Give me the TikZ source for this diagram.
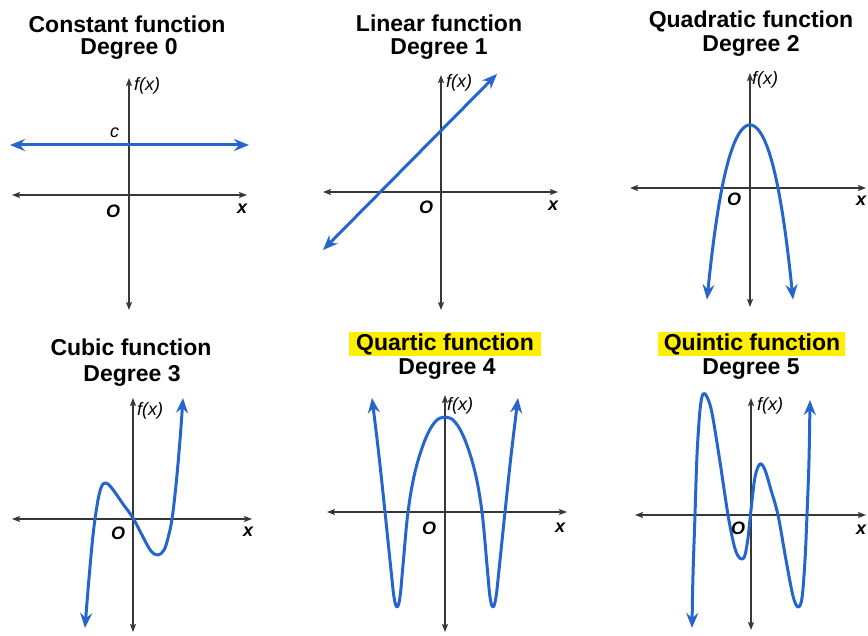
\documentclass[tikz,border=0pt]{standalone}
\usepackage{fontspec}
\setmainfont{Liberation Sans}
\usetikzlibrary{arrows.meta}
\definecolor{curveblue}{RGB}{38,102,204}
\definecolor{axisgray}{RGB}{55,55,55}
\definecolor{hiyellow}{RGB}{255,238,0}
\tikzset{
  axisline/.style={draw=axisgray, line width=1.4pt, {Stealth[length=8pt,width=6pt,inset=1.5pt]}-{Stealth[length=8pt,width=6pt,inset=1.5pt]}},
  curveline/.style={draw=curveblue, line width=3pt, line join=round, {Stealth[length=15pt,width=12pt,inset=5pt]}-{Stealth[length=15pt,width=12pt,inset=5pt]}},
  titletext/.style={anchor=base, inner sep=0pt, font=\bfseries\fontsize{23}{26}\selectfont},
  hibox/.style={fill=hiyellow, draw=none},
  fxlabel/.style={anchor=base west, inner sep=0pt, font=\itshape\fontsize{18}{20}\selectfont},
  olabel/.style={anchor=base west, inner sep=0pt, font=\bfseries\itshape\fontsize{18}{20}\selectfont},
}
\begin{document}
\begin{tikzpicture}[x=1pt,y=-1pt]
\useasboundingbox[fill=white] (0,0) rectangle (868,636);

% ---------- Panel 1: constant ----------
\node[titletext] (t1a) at (127,33) {Constant function};
\node[titletext] (t1b) at (129,55) {Degree 0};
\draw[axisline] (12,195) -- (247,195);
\draw[axisline] (129,310) -- (129,78);
\draw[curveline] (10,145) -- (249,145);
\node[fxlabel] (f1) at (134,91) {f(x)};
\node[fxlabel] (c1) at (110,138) {c};
\node[olabel] (o1) at (106,218) {O};
\node[olabel] (x1) at (237,214) {x};

% ---------- Panel 2: linear ----------
\node[titletext] (t2a) at (439,32) {Linear function};
\node[titletext] (t2b) at (439,55) {Degree 1};
\draw[axisline] (323,192) -- (558,192);
\draw[axisline] (441,310) -- (441,75);
\draw[curveline] (323,250) -- (497,74);
\node[fxlabel] (f2) at (446,88) {f(x)};
\node[olabel] (o2) at (419,214) {O};
\node[olabel] (x2) at (548,211) {x};

% ---------- Panel 3: quadratic ----------
\node[titletext] (t3a) at (751,28) {Quadratic function};
\node[titletext] (t3b) at (751,52) {Degree 2};
\draw[axisline] (630,188) -- (866,188);
\draw[axisline] (750,307) -- (750,73);
\draw[curveline] plot[domain=-4.3:4.3, samples=70, variable=\t] ({750+10*\t},{125+7*\t*\t+0.132*\t*\t*\t*\t});
\node[fxlabel] (f3) at (752,85) {f(x)};
\node[olabel] (o3) at (727,206) {O};
\node[olabel] (x3) at (856,206) {x};

% ---------- Panel 4: cubic ----------
\node[titletext] (t4a) at (131,356) {Cubic function};
\node[titletext] (t4b) at (132,382) {Degree 3};
\draw[axisline] (12,519) -- (252,519);
\draw[axisline] (133,632) -- (133,398);
\draw[curveline] plot[smooth, tension=0.6] coordinates {(85,628) (88,590) (92,545) (95,519) (99,495) (103,484) (108,484) (114,491) (123,504) (133,518) (143,537) (151,551) (158,555) (164,550) (168,538) (172,519) (176,485) (180,440) (183,398)};
\node[fxlabel] (f4) at (137,415) {f(x)};
\node[olabel] (o4) at (111,539) {O};
\node[olabel] (x4) at (243,536) {x};

% ---------- Panel 5: quartic ----------
\fill[hibox] (349,332) rectangle (541,356);
\node[titletext] (t5a) at (445,351) {Quartic function};
\node[titletext] (t5b) at (447,375) {Degree 4};
\draw[axisline] (327,512) -- (567,512);
\draw[axisline] (445,632) -- (445,395);
\draw[curveline] plot[smooth, tension=0.6] coordinates {(372,398) (379,456) (385,512) (391,570) (394,597) (397,607) (400,597) (403,565) (408,512) (415,472) (425,440) (435,422) (445,417) (455,422) (465,440) (475,472) (482,512) (487,565) (490,597) (493,607) (496,597) (499,570) (505,512) (511,456) (518,398)};
\node[fxlabel] (f5) at (447,410) {f(x)};
\node[olabel] (o5) at (422,534) {O};
\node[olabel] (x5) at (555,532) {x};

% ---------- Panel 6: quintic ----------
\fill[hibox] (658,332) rectangle (845,356);
\node[titletext] (t6a) at (752,351) {Quintic function};
\node[titletext] (t6b) at (751,375) {Degree 5};
\draw[axisline] (635,515) -- (866,515);
\draw[axisline] (751,630) -- (751,398);
\draw[curveline] plot[smooth, tension=0.55] coordinates {(692,628) (693,575) (695,515) (697,455) (700,410) (703,394) (707,397) (712,413) (720,462) (728,515) (734,545) (738,556) (742,559) (745,555) (748,538) (751,510) (755,477) (760,464) (765,470) (771,490) (778,515) (786,560) (793,596) (798,607) (802,598) (805,560) (807,515) (809,460) (810,400)};
\node[fxlabel] (f6) at (757,410) {f(x)};
\node[olabel] (o6) at (731,534) {O};
\node[olabel] (x6) at (856,534) {x};
\end{tikzpicture}
\end{document}
